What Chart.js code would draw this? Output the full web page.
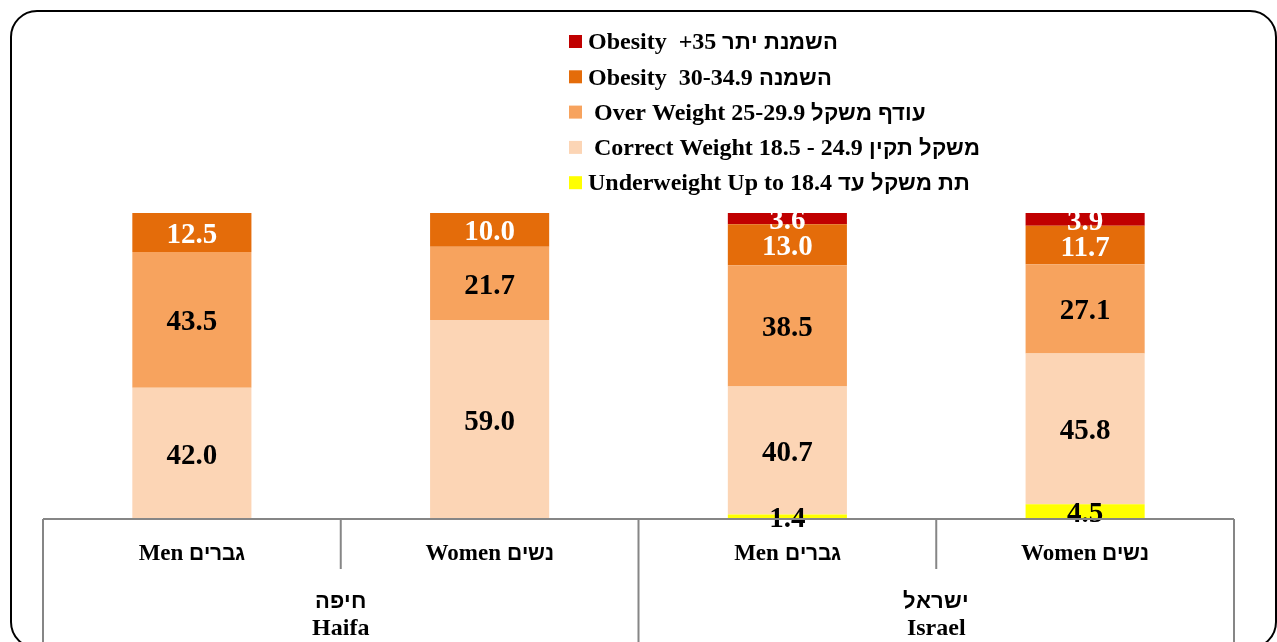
<!DOCTYPE html>
<html>
<head>
<meta charset="utf-8">
<script src="https://cdn.jsdelivr.net/npm/chart.js@4"></script>
<style>
  @font-face {
    font-family: "HebBold";
    src: local("Liberation Sans Bold"), local("LiberationSans-Bold"), local("DejaVu Sans Bold"), local("DejaVuSans-Bold");
    font-weight: bold;
    size-adjust: 90%;
    unicode-range: U+0590-05FF, U+FB1D-FB4F;
  }
  body { margin: 0; background: #fff; }
  canvas { display: block; }
</style>
</head>
<body>
<canvas id="bmiChart" width="1277" height="642"></canvas>
<script>
let categories = ["Men גברים", "Women נשים", "Men גברים", "Women נשים"];
let groups = [["חיפה", "Haifa"], ["ישראל", "Israel"]];

let underweight = [null, null, 1.4, 4.5];
let correctWeight = [42.0, 59.0, 40.7, 45.8];
let overWeight = [43.5, 21.7, 38.5, 27.1];
let obesity30 = [12.5, 10.0, 13.0, 11.7];
let obesity35 = [null, null, 3.6, 3.9];

let seriesNames = [
  "Underweight Up to 18.4 תת משקל עד",
  " Correct Weight 18.5 - 24.9 משקל תקין",
  " Over Weight 25-29.9 עודף משקל",
  "Obesity  30-34.9 השמנה",
  "Obesity  +35 השמנת יתר"
];
let seriesColors = ["#FFFF00", "#FCD5B5", "#F7A35E", "#E46C0A", "#C00000"];
let labelColors = ["#000", "#000", "#000", "#fff", "#fff"];

let allSeries = [underweight, correctWeight, overWeight, obesity30, obesity35];
let FONT = '"HebBold", "Liberation Serif", "Times New Roman", serif';

// each column is shown as share of its own total (100% stacked)
let totals = categories.map((c, i) => allSeries.reduce((s, arr) => s + (arr[i] || 0), 0));

let datasets = allSeries.map((arr, k) => ({
  label: seriesNames[k],
  data: arr.map((v, i) => v == null ? null : v / totals[i] * 100),
  raw: arr,
  backgroundColor: seriesColors[k],
  borderWidth: 0,
  categoryPercentage: 1,
  barPercentage: 0.4
}));

let tablePlugin = {
  id: "tablePlugin",
  afterDatasetsDraw(chart) {
    let ctx = chart.ctx;
    ctx.save();
    ctx.textAlign = "center";
    ctx.textBaseline = "middle";
    ctx.font = "bold 29px " + FONT;
    chart.data.datasets.forEach((ds, k) => {
      let meta = chart.getDatasetMeta(k);
      meta.data.forEach((bar, i) => {
        if (ds.raw[i] == null) return;
        ctx.fillStyle = labelColors[k];
        ctx.fillText(ds.raw[i].toFixed(1), bar.x, (bar.y + bar.base) / 2 + 3);
      });
    });
    ctx.restore();
  },
  afterDraw(chart) {
    let ctx = chart.ctx;
    let area = chart.chartArea;
    let x = chart.scales.x;
    let band = (area.right - area.left) / categories.length;
    let bottom = chart.height;
    ctx.save();

    // outer rounded frame
    ctx.strokeStyle = "#000";
    ctx.lineWidth = 2;
    ctx.beginPath();
    ctx.roundRect(11, 11, 1265, 637, 26);
    ctx.stroke();

    // category table under the bars
    ctx.strokeStyle = "#868686";
    ctx.lineWidth = 2;
    ctx.beginPath();
    ctx.moveTo(area.left, area.bottom);
    ctx.lineTo(area.right, area.bottom);
    for (let i = 0; i <= categories.length; i++) {
      let px = x.getPixelForValue(i) - band / 2;
      ctx.moveTo(px, area.bottom);
      ctx.lineTo(px, i % 2 == 0 ? bottom : area.bottom + 50);
    }
    ctx.stroke();

    ctx.fillStyle = "#000";
    ctx.textAlign = "center";
    ctx.textBaseline = "middle";
    ctx.font = "bold 23px " + FONT;
    categories.forEach((c, i) => {
      ctx.fillText(c, x.getPixelForValue(i), area.bottom + 35);
    });
    ctx.font = "bold 24px " + FONT;
    groups.forEach((g, j) => {
      let cx = (x.getPixelForValue(j * 2) + x.getPixelForValue(j * 2 + 1)) / 2;
      ctx.fillText(g[0], cx, area.bottom + 83);
      ctx.fillText(g[1], cx, area.bottom + 110);
    });

    // legend, top item is the top of the stack
    ctx.textAlign = "left";
    ctx.font = "bold 24px " + FONT;
    for (let k = 0; k < seriesNames.length; k++) {
      let row = seriesNames.length - 1 - k;
      let cy = 42 + row * 35.3;
      ctx.fillStyle = seriesColors[k];
      ctx.fillRect(569, cy - 7, 13, 13);
      ctx.fillStyle = "#000";
      ctx.fillText(seriesNames[k], 588, cy + 1);
    }
    ctx.restore();
  }
};

function draw() {
  new Chart(document.getElementById("bmiChart"), {
    type: "bar",
    data: { labels: categories, datasets: datasets },
    options: {
      responsive: false,
      animation: false,
      devicePixelRatio: 1,
      layout: { padding: { top: 213, left: 43, right: 43, bottom: 123 } },
      plugins: { legend: { display: false }, tooltip: { enabled: false } },
      scales: {
        x: { stacked: true, display: false },
        y: { stacked: true, display: false, min: 0, max: 100 }
      }
    },
    plugins: [tablePlugin]
  });
}

document.fonts.load('bold 24px "HebBold"', "אב").then(draw, draw);
</script>
</body>
</html>
